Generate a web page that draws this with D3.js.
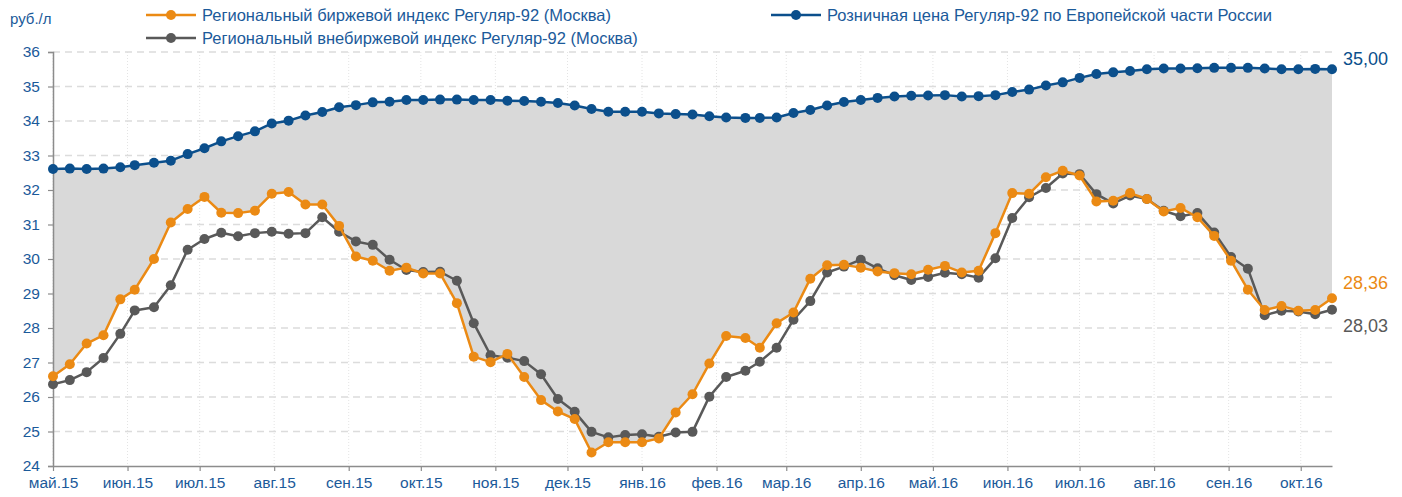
<!DOCTYPE html>
<html>
<head>
<meta charset="utf-8">
<script src="https://cdnjs.cloudflare.com/ajax/libs/d3/7.8.5/d3.min.js"></script>
<style>
  body { margin: 0; background: #fff; }
  svg { display: block; font-family: "Liberation Sans", Arial, sans-serif; }
</style>
</head>
<body>
<svg id="chart" width="1402" height="497"></svg>
<script>
// Weekly observation dates
const dates = [
  "2015-05-01","2015-05-08","2015-05-15","2015-05-22","2015-05-29","2015-06-04","2015-06-12","2015-06-19","2015-06-26","2015-07-03",
  "2015-07-10","2015-07-17","2015-07-24","2015-07-31","2015-08-07","2015-08-14","2015-08-21","2015-08-28","2015-09-04","2015-09-11",
  "2015-09-18","2015-09-25","2015-10-02","2015-10-09","2015-10-16","2015-10-23","2015-10-30","2015-11-06","2015-11-13","2015-11-20",
  "2015-11-27","2015-12-04","2015-12-11","2015-12-18","2015-12-25","2016-01-01","2016-01-08","2016-01-15","2016-01-22","2016-01-29",
  "2016-02-05","2016-02-13","2016-02-19","2016-02-26","2016-03-04","2016-03-11","2016-03-18","2016-03-25","2016-04-01","2016-04-08",
  "2016-04-15","2016-04-22","2016-04-29","2016-05-06","2016-05-13","2016-05-20","2016-05-27","2016-06-03","2016-06-10","2016-06-17",
  "2016-06-24","2016-07-01","2016-07-08","2016-07-15","2016-07-22","2016-07-29","2016-08-05","2016-08-12","2016-08-19","2016-08-26",
  "2016-09-02","2016-09-09","2016-09-16","2016-09-23","2016-09-30","2016-10-07","2016-10-14"
];

// Розничная цена Регуляр-92 по Европейской части России, руб./л
const retail = [
  32.11,32.12,32.11,32.12,32.16,32.22,32.29,32.35,32.54,32.71,
  32.91,33.06,33.20,33.43,33.51,33.66,33.76,33.90,33.96,34.04,
  34.06,34.11,34.11,34.12,34.12,34.11,34.11,34.09,34.08,34.06,
  34.02,33.95,33.85,33.77,33.77,33.77,33.72,33.70,33.69,33.64,
  33.60,33.59,33.59,33.60,33.73,33.82,33.95,34.05,34.11,34.17,
  34.21,34.23,34.24,34.25,34.21,34.22,34.25,34.34,34.41,34.53,
  34.62,34.75,34.86,34.91,34.95,35.00,35.02,35.02,35.03,35.04,
  35.04,35.04,35.02,35.00,35.00,35.01,35.00
];

// Региональный биржевой индекс Регуляр-92 (Москва)
const exchange = [
  26.10,26.45,27.05,27.29,28.33,28.61,29.50,30.56,30.95,31.30,
  30.84,30.83,30.90,31.39,31.44,31.08,31.08,30.46,29.57,29.45,
  29.16,29.25,29.08,29.08,28.22,26.67,26.51,26.75,26.08,25.41,
  25.08,24.86,23.89,24.19,24.19,24.19,24.30,25.05,25.58,26.47,
  27.27,27.21,26.93,27.64,27.95,28.93,29.32,29.33,29.25,29.14,
  29.09,29.06,29.19,29.30,29.11,29.16,30.25,31.41,31.39,31.87,
  32.06,31.92,31.17,31.19,31.41,31.24,30.88,30.98,30.71,30.17,
  29.45,28.61,28.02,28.14,28.00,28.02,28.36
];

// Региональный внебиржевой индекс Регуляр-92 (Москва)
const otc = [
  25.87,25.99,26.22,26.63,27.33,28.01,28.10,28.74,29.77,30.08,
  30.26,30.16,30.25,30.29,30.23,30.25,30.71,30.29,30.01,29.91,
  29.48,29.18,29.12,29.13,28.87,27.64,26.71,26.64,26.54,26.16,
  25.44,25.07,24.49,24.33,24.40,24.42,24.35,24.47,24.49,25.51,
  26.08,26.26,26.52,26.93,27.74,28.28,29.11,29.28,29.48,29.23,
  29.03,28.89,28.98,29.10,29.06,28.96,29.52,30.69,31.29,31.56,
  31.98,31.96,31.38,31.11,31.34,31.24,30.90,30.74,30.83,30.27,
  29.56,29.22,27.87,28.00,27.98,27.90,28.03
];

// Axis ticks
const monthTicks = [
  "2015-05-01","2015-06-01","2015-07-01","2015-08-01","2015-09-01","2015-10-01",
  "2015-11-01","2015-12-01","2016-01-01","2016-02-01","2016-03-01","2016-04-01",
  "2016-05-01","2016-06-01","2016-07-01","2016-08-01","2016-09-01","2016-10-01"
];
const monthLabels = [
  "май.15","июн.15","июл.15","авг.15","сен.15","окт.15","ноя.15","дек.15",
  "янв.16","фев.16","мар.16","апр.16","май.16","июн.16","июл.16","авг.16","сен.16","окт.16"
];
const yTickValues = [23.5,24.5,25.5,26.5,27.5,28.5,29.5,30.5,31.5,32.5,33.5,34.5,35.5];
const yTickLabels = ["24","25","26","27","28","29","30","31","32","33","34","35","36"];

const seriesNames = {
  exchange: "Региональный биржевой индекс Регуляр-92 (Москва)",
  otc: "Региональный внебиржевой индекс Регуляр-92 (Москва)",
  retail: "Розничная цена Регуляр-92 по Европейской части России"
};
const colors = {
  retail: "#0b4f8c",
  exchange: "#eb8a14",
  otc: "#595959",
  fill: "#d9d9d9",
  text: "#1b5a9a",
  grid: "#dcdcdc",
  axis: "#8c8c8c"
};

const parse = d3.timeParse("%Y-%m-%d");
const dt = dates.map(parse);
const rows = dt.map((d, i) => ({ date: d, retail: retail[i], exchange: exchange[i], otc: otc[i] }));

const plot = { left: 53, right: 1332, top: 52, bottom: 466 };
const svg = d3.select("#chart");

const x = d3.scaleTime()
  .domain([dt[0], dt[dt.length - 1]])
  .range([plot.left, plot.right]);
const y = d3.scaleLinear()
  .domain([yTickValues[0], yTickValues[yTickValues.length - 1]])
  .range([plot.bottom, plot.top]);

const ticksX = monthTicks.map(parse);

// Vertical dotted month gridlines
svg.append("g").selectAll("line").data(ticksX).join("line")
  .attr("x1", d => x(d)).attr("x2", d => x(d))
  .attr("y1", plot.top).attr("y2", plot.bottom)
  .attr("stroke", "#e4e4e4").attr("stroke-width", 1)
  .attr("stroke-dasharray", "1,2");

// Horizontal dashed gridlines
svg.append("g").selectAll("line").data(yTickValues.slice(1)).join("line")
  .attr("x1", plot.left).attr("x2", plot.right)
  .attr("y1", d => y(d)).attr("y2", d => y(d))
  .attr("stroke", colors.grid).attr("stroke-width", 1.3)
  .attr("stroke-dasharray", "7,5");

// Shaded band between retail price and exchange index
const band = d3.area()
  .x(d => x(d.date))
  .y0(d => y(d.exchange))
  .y1(d => y(d.retail));
svg.append("path").datum(rows)
  .attr("d", band)
  .attr("fill", colors.fill);

// Axes
const yAxis = d3.axisLeft(y)
  .tickValues(yTickValues)
  .tickFormat((d, i) => yTickLabels[i])
  .tickSize(5).tickPadding(8);
const gy = svg.append("g").attr("transform", `translate(${plot.left},0)`).call(yAxis);
gy.select(".domain").attr("stroke", colors.axis).attr("stroke-width", 1.5);
gy.selectAll(".tick line").attr("stroke", colors.axis).attr("stroke-width", 1.2);
gy.selectAll(".tick text").attr("fill", colors.text).attr("font-size", 15.5)
  .attr("font-family", "Liberation Sans, Arial, sans-serif");

const xAxis = d3.axisBottom(x)
  .tickValues(ticksX)
  .tickFormat((d, i) => monthLabels[i])
  .tickSize(5).tickSizeOuter(0).tickPadding(6);
const gx = svg.append("g").attr("transform", `translate(0,${plot.bottom})`).call(xAxis);
gx.select(".domain").attr("stroke", colors.axis).attr("stroke-width", 1.5);
gx.selectAll(".tick line").attr("stroke", colors.axis).attr("stroke-width", 1.2);
gx.selectAll(".tick text").attr("fill", colors.text).attr("font-size", 15.5)
  .attr("font-family", "Liberation Sans, Arial, sans-serif");

// Unit label
svg.append("text").attr("x", 10).attr("y", 24)
  .attr("fill", colors.text).attr("font-size", 15).text("руб./л");

// Lines with markers
function drawSeries(key) {
  const line = d3.line().x(d => x(d.date)).y(d => y(d[key]));
  const g = svg.append("g");
  g.append("path").datum(rows)
    .attr("d", line).attr("fill", "none")
    .attr("stroke", colors[key]).attr("stroke-width", 2.5)
    .attr("stroke-linejoin", "round");
  g.selectAll("circle").data(rows).join("circle")
    .attr("cx", d => x(d.date)).attr("cy", d => y(d[key]))
    .attr("r", 5).attr("fill", colors[key]);
}
drawSeries("otc");
drawSeries("exchange");
drawSeries("retail");

// Latest values at the right edge
const ru = d3.formatLocale({ decimal: ",", thousands: "\u00a0", grouping: [3], currency: ["", " ₽"] });
const fmt = ru.format(".2f");
const endLabels = [
  { key: "retail", dy: -10 },
  { key: "exchange", dy: -15 },
  { key: "otc", dy: 16 }
];
const last = rows[rows.length - 1];
svg.append("g").selectAll("text").data(endLabels).join("text")
  .attr("x", plot.right + 11)
  .attr("y", d => y(last[d.key]) + d.dy)
  .attr("dominant-baseline", "central")
  .attr("fill", d => colors[d.key])
  .attr("font-size", 18)
  .text(d => fmt(last[d.key]));

// Legend
const legendItems = [
  { key: "exchange", x: 146, y: 15 },
  { key: "otc", x: 146, y: 38 },
  { key: "retail", x: 771, y: 15 }
];
const lg = svg.append("g").selectAll("g").data(legendItems).join("g")
  .attr("transform", d => `translate(${d.x},${d.y})`);
lg.append("line").attr("x1", 0).attr("x2", 50).attr("y1", 0).attr("y2", 0)
  .attr("stroke", d => colors[d.key]).attr("stroke-width", 2.5);
lg.append("circle").attr("cx", 25).attr("cy", 0).attr("r", 5)
  .attr("fill", d => colors[d.key]);
lg.append("text").attr("x", 56).attr("y", 0)
  .attr("dominant-baseline", "central")
  .attr("fill", colors.text).attr("font-size", 16.5)
  .text(d => seriesNames[d.key]);
</script>
</body>
</html>
